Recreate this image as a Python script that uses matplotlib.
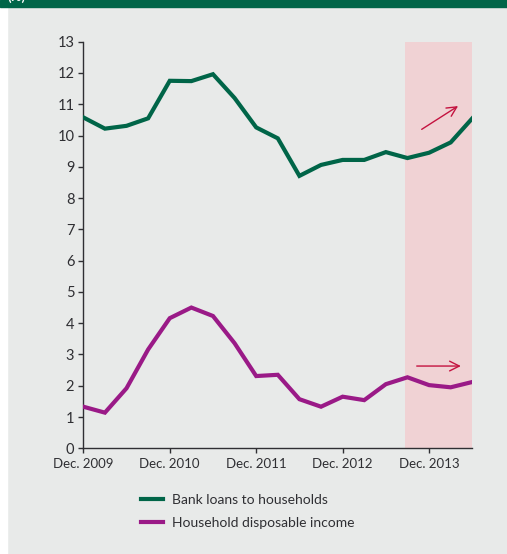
import matplotlib.pyplot as plt
import numpy as np

# quarterly observations, Dec. 2009 .. Jun. 2014
quarters = np.arange(19)
bank_loans = [10.58, 10.22, 10.31, 10.55, 11.75, 11.74, 11.96, 11.2, 10.26, 9.91,
              8.71, 9.06, 9.22, 9.22, 9.47, 9.28, 9.45, 9.78, 10.55]
disposable_income = [1.33, 1.14, 1.92, 3.16, 4.16, 4.50, 4.23, 3.36, 2.31, 2.35,
                     1.57, 1.33, 1.65, 1.54, 2.05, 2.27, 2.02, 1.95, 2.12]
tick_quarters = [0, 4, 8, 12, 16]
tick_labels = ["Dec. 2009", "Dec. 2010", "Dec. 2011", "Dec. 2012", "Dec. 2013"]
shade_span = (14.9, 18.0)
# trend arrows: (start, end) in (quarter, value)
up_arrow = ((15.55, 10.15), (17.45, 10.99))
flat_arrow = ((15.3, 2.63), (17.6, 2.63))

GREEN = "#006548"
PURPLE = "#9a1a87"
SHADE = "#f0d2d4"
ARROW = "#c4123f"
BG = "#e8eae9"
TEXT = "#2f2f33"

plt.rcParams["font.family"] = ["Lato", "DejaVu Sans"]

fig = plt.figure(figsize=(5.07, 5.54), dpi=100)
fig.patch.set_facecolor(BG)
# white left strip and dark green header band
fig.patches.append(plt.Rectangle((0, 0), 7 / 507, 1, transform=fig.transFigure,
                                 color="white", zorder=0))
fig.patches.append(plt.Rectangle((0, 1 - 7 / 554), 1, 7 / 554, transform=fig.transFigure,
                                 color=GREEN, zorder=1))
fig.text(8 / 507, 1 - 3 / 554, "(%)", color="white", fontsize=9.5, fontweight="bold",
         va="bottom", ha="left")

ax = fig.add_axes([83.3 / 507, 1 - 448.3 / 554, (472.3 - 83.3) / 507, (448.3 - 41.7) / 554])
ax.set_facecolor(BG)
ax.axvspan(*shade_span, color=SHADE, lw=0, zorder=0)

ax.plot(quarters, bank_loans, color=GREEN, lw=3, solid_joinstyle="miter",
        label="Bank loans to households", zorder=3)
ax.plot(quarters, disposable_income, color=PURPLE, lw=3, solid_joinstyle="miter",
        label="Household disposable income", zorder=3)

for start, end in (up_arrow, flat_arrow):
    ax.annotate("", xy=end, xytext=start,
                arrowprops=dict(arrowstyle="->,head_length=0.7,head_width=0.35",
                                color=ARROW, lw=1.0), zorder=4)

ax.set_xlim(0, 18)
ax.set_ylim(0, 13)
ax.set_yticks(range(14))
ax.set_xticks(tick_quarters, tick_labels)
ax.spines[["top", "right"]].set_visible(False)
for side in ("left", "bottom"):
    ax.spines[side].set_color(TEXT)
    ax.spines[side].set_linewidth(1.0)
ax.tick_params(direction="out", length=3.5, width=1.0, color=TEXT, labelcolor=TEXT,
               labelsize=10.5)
ax.tick_params(axis="x", labelsize=9.5, pad=3.5)
ax.tick_params(axis="y", pad=3)

handles, labels = ax.get_legend_handles_labels()
fig.legend(handles, labels, loc="upper left", bbox_to_anchor=(141 / 507, 1 - 494 / 554),
           frameon=False, fontsize=10, handlelength=1.6, handletextpad=0.6,
           labelspacing=0.8, borderpad=0, borderaxespad=0, labelcolor=TEXT)

fig.savefig("out.png", facecolor=BG)
